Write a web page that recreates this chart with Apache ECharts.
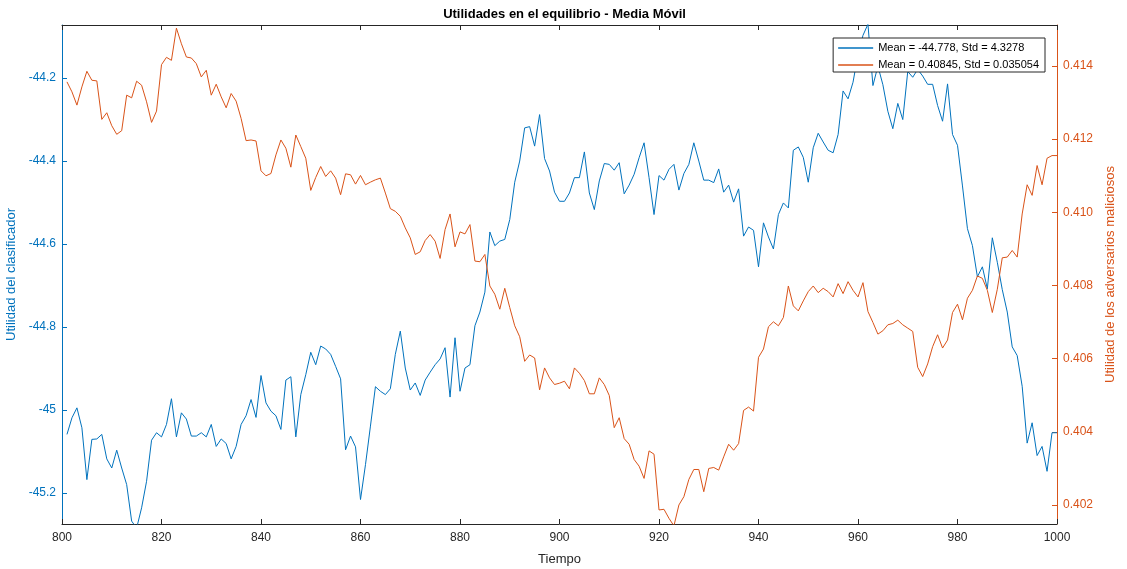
<!DOCTYPE html>
<html>
<head>
<meta charset="utf-8">
<title>Utilidades en el equilibrio - Media Móvil</title>
<script src="https://cdn.jsdelivr.net/npm/echarts@6/dist/echarts.min.js"></script>
<style>
  html, body { margin: 0; padding: 0; background: #fff; }
  #chart { width: 1127px; height: 569px; }
</style>
</head>
<body>
<div id="chart"></div>
<script>
// Time steps of the moving average window (801 .. 1000)
const firstStep = 801;
const lastStep = 1000;

// Classifier utility (left axis)
const utilClasificador = [
  -45.059, -45.019, -44.995, -45.043, -45.168, -45.071, -45.070, -45.059, -45.118, -45.140,
  -45.097, -45.140, -45.180, -45.268, -45.285, -45.236, -45.172, -45.073, -45.055, -45.065,
  -45.035, -44.973, -45.065, -45.007, -45.022, -45.063, -45.063, -45.055, -45.065, -45.035,
  -45.088, -45.070, -45.081, -45.118, -45.088, -45.035, -45.014, -44.975, -45.018, -44.917,
  -44.983, -45.003, -45.014, -45.047, -44.928, -44.920, -45.065, -44.963, -44.915, -44.861,
  -44.891, -44.846, -44.853, -44.866, -44.895, -44.925, -45.096, -45.063, -45.089, -45.216,
  -45.132, -45.039, -44.944, -44.955, -44.963, -44.949, -44.866, -44.810, -44.899, -44.952,
  -44.935, -44.965, -44.928, -44.909, -44.891, -44.877, -44.850, -44.969, -44.826, -44.955,
  -44.899, -44.891, -44.797, -44.764, -44.716, -44.571, -44.604, -44.593, -44.589, -44.541,
  -44.451, -44.400, -44.320, -44.317, -44.364, -44.288, -44.394, -44.424, -44.475, -44.497,
  -44.497, -44.477, -44.440, -44.440, -44.378, -44.477, -44.517, -44.448, -44.406, -44.408,
  -44.422, -44.404, -44.479, -44.458, -44.432, -44.392, -44.356, -44.440, -44.529, -44.435,
  -44.446, -44.420, -44.408, -44.470, -44.430, -44.408, -44.356, -44.400, -44.446, -44.446,
  -44.452, -44.419, -44.475, -44.458, -44.499, -44.467, -44.581, -44.559, -44.567, -44.655,
  -44.549, -44.583, -44.612, -44.529, -44.501, -44.513, -44.374, -44.366, -44.391, -44.451,
  -44.368, -44.333, -44.354, -44.374, -44.380, -44.336, -44.231, -44.250, -44.210, -44.143,
  -44.097, -44.070, -44.218, -44.171, -44.216, -44.280, -44.322, -44.261, -44.300, -44.184,
  -44.198, -44.179, -44.195, -44.215, -44.215, -44.266, -44.304, -44.214, -44.336, -44.362,
  -44.460, -44.563, -44.604, -44.679, -44.655, -44.708, -44.585, -44.644, -44.710, -44.764,
  -44.848, -44.869, -44.943, -45.080, -45.031, -45.110, -45.088, -45.148, -45.055, -45.055
];

// Utility of the malicious adversaries (right axis)
const utilAdversarios = [
  0.413565, 0.413293, 0.412930, 0.413429, 0.413855, 0.413610, 0.413592, 0.412540, 0.412721, 0.412367,
  0.412132, 0.412231, 0.413202, 0.413129, 0.413583, 0.413474, 0.413020, 0.412458, 0.412766, 0.414036,
  0.414236, 0.414154, 0.415034, 0.414608, 0.414245, 0.414218, 0.414063, 0.413701, 0.413882, 0.413202,
  0.413501, 0.413156, 0.412857, 0.413247, 0.413039, 0.412567, 0.411959, 0.411977, 0.411950, 0.411134,
  0.410998, 0.411061, 0.411569, 0.411977, 0.411751, 0.411234, 0.412113, 0.411796, 0.411478, 0.410599,
  0.410952, 0.411252, 0.410980, 0.411134, 0.410934, 0.410481, 0.411052, 0.411025, 0.410771, 0.411007,
  0.410753, 0.410825, 0.410889, 0.410934, 0.410526, 0.410100, 0.410027, 0.409891, 0.409574, 0.409302,
  0.408848, 0.408921, 0.409229, 0.409392, 0.409211, 0.408739, 0.409528, 0.409955, 0.409057, 0.409465,
  0.409410, 0.409664, 0.408667, 0.408649, 0.408848, 0.407986, 0.407760, 0.407351, 0.407923, 0.407397,
  0.406898, 0.406599, 0.405927, 0.406100, 0.406018, 0.405147, 0.405746, 0.405474, 0.405293, 0.405329,
  0.405383, 0.405175, 0.405746, 0.405601, 0.405401, 0.405039, 0.405039, 0.405474, 0.405293, 0.404993,
  0.404113, 0.404385, 0.403814, 0.403660, 0.403243, 0.403061, 0.402726, 0.403478, 0.403388, 0.401864,
  0.401882, 0.401637, 0.401429, 0.402000, 0.402227, 0.402698, 0.402970, 0.402970, 0.402363, 0.402998,
  0.403025, 0.402952, 0.403315, 0.403660, 0.403497, 0.403678, 0.404585, 0.404676, 0.404567, 0.406036,
  0.406263, 0.406871, 0.407007, 0.406898, 0.407125, 0.407986, 0.407442, 0.407306, 0.407578, 0.407832,
  0.407986, 0.407805, 0.407923, 0.407832, 0.407687, 0.408050, 0.407778, 0.408104, 0.407868, 0.407687,
  0.408077, 0.407288, 0.406989, 0.406671, 0.406762, 0.406925, 0.406961, 0.407052, 0.406925, 0.406834,
  0.406744, 0.405764, 0.405510, 0.405855, 0.406327, 0.406653, 0.406290, 0.406508, 0.407261, 0.407488,
  0.407061, 0.407651, 0.407868, 0.408259, 0.408195, 0.407868, 0.407261, 0.407896, 0.408757, 0.408776,
  0.408957, 0.408776, 0.409955, 0.410753, 0.410463, 0.411279, 0.410753, 0.411478, 0.411551, 0.411551
];

// Tick labels
const xTicks = [800, 820, 840, 860, 880, 900, 920, 940, 960, 980, 1000];
const leftTicks = [-45.2, -45.0, -44.8, -44.6, -44.4, -44.2];
const rightTicks = [0.402, 0.404, 0.406, 0.408, 0.410, 0.412, 0.414];

// Legend entries
const legendBlue = 'Mean = -44.778, Std = 4.3278';
const legendOrange = 'Mean = 0.40845, Std = 0.035054';

const BLUE = '#0072BD';
const ORANGE = '#D95319';
const DARK = '#262626';
const FONT = '"Liberation Sans", Arial, Helvetica, sans-serif';

const steps = [];
for (let s = firstStep; s <= lastStep; s++) steps.push(s);
const blueData = steps.map((s, i) => [s, utilClasificador[i]]);
const orangeData = steps.map((s, i) => [s, utilAdversarios[i]]);

const chart = echarts.init(document.getElementById('chart'), null, { renderer: 'canvas' });

chart.setOption({
  animation: false,
  backgroundColor: '#fff',
  textStyle: { fontFamily: FONT },
  title: {
    text: 'Utilidades en el equilibrio - Media Móvil',
    left: 559.5,
    textAlign: 'center',
    top: 3,
    textStyle: { fontFamily: FONT, fontSize: 13, fontWeight: 'bold', color: '#000' }
  },
  legend: {
    orient: 'vertical',
    right: 82,
    top: 38,
    backgroundColor: '#fff',
    borderColor: DARK,
    borderWidth: 1,
    borderRadius: 0,
    padding: [4, 6, 1, 5],
    itemGap: 5,
    itemWidth: 35,
    itemHeight: 1.5,
    textStyle: { fontFamily: FONT, fontSize: 11, color: '#000', lineHeight: 12 },
    data: [
      { name: legendBlue, icon: 'rect', itemStyle: { color: BLUE, borderWidth: 0, opacity: 1 } },
      { name: legendOrange, icon: 'rect', itemStyle: { color: ORANGE, borderWidth: 0, opacity: 1 } }
    ],
    z: 10
  },
  grid: { left: 62, right: 70, top: 25, bottom: 45, containLabel: false, outerBoundsMode: 'none' },
  xAxis: [
    {
      type: 'value',
      min: 800,
      max: 1000,
      interval: 20,
      position: 'bottom',
      name: 'Tiempo',
      nameLocation: 'middle',
      nameGap: 29,
      nameTextStyle: { fontFamily: FONT, fontSize: 13, color: DARK },
      axisLine: { show: true, lineStyle: { color: DARK, width: 1 } },
      axisTick: { show: true, inside: true, length: 5, lineStyle: { color: DARK } },
      axisLabel: {
        margin: 8, fontFamily: FONT, fontSize: 12, color: DARK,
        formatter: v => (xTicks.includes(v) ? String(v) : '')
      },
      splitLine: { show: false }
    },
    {
      type: 'value',
      min: 800,
      max: 1000,
      interval: 20,
      position: 'top',
      axisLine: { show: true, lineStyle: { color: DARK, width: 1 } },
      axisTick: { show: true, inside: true, length: 5, lineStyle: { color: DARK } },
      axisLabel: { show: false },
      splitLine: { show: false }
    }
  ],
  yAxis: [
    {
      type: 'value',
      position: 'left',
      min: -45.275,
      max: -44.072,
      name: 'Utilidad del clasificador',
      nameLocation: 'middle',
      nameGap: 41,
      nameTextStyle: { fontFamily: FONT, fontSize: 13, color: BLUE },
      axisLine: { show: true, onZero: false, lineStyle: { color: BLUE, width: 1 } },
      axisTick: { show: true, inside: true, length: 5, customValues: leftTicks, lineStyle: { color: BLUE } },
      axisLabel: {
        customValues: leftTicks, margin: 6, fontFamily: FONT, fontSize: 12, color: BLUE,
        formatter: v => String(+(+v).toFixed(1))
      },
      splitLine: { show: false }
    },
    {
      type: 'value',
      position: 'right',
      min: 0.40148,
      max: 0.41512,
      name: 'Utilidad de los adversarios maliciosos',
      nameLocation: 'middle',
      nameGap: 44,
      nameTextStyle: { fontFamily: FONT, fontSize: 13, color: ORANGE },
      axisLine: { show: true, onZero: false, lineStyle: { color: ORANGE, width: 1 } },
      axisTick: { show: true, inside: true, length: 5, customValues: rightTicks, lineStyle: { color: ORANGE } },
      axisLabel: {
        customValues: rightTicks, margin: 6, fontFamily: FONT, fontSize: 12, color: ORANGE,
        formatter: v => (+v).toFixed(3)
      },
      splitLine: { show: false }
    }
  ],
  series: [
    {
      name: legendBlue,
      type: 'line',
      xAxisIndex: 0,
      yAxisIndex: 0,
      data: blueData,
      symbol: 'none',
      clip: true,
      lineStyle: { color: BLUE, width: 1 },
      itemStyle: { color: BLUE }
    },
    {
      name: legendOrange,
      type: 'line',
      xAxisIndex: 0,
      yAxisIndex: 1,
      data: orangeData,
      symbol: 'none',
      clip: true,
      lineStyle: { color: ORANGE, width: 1 },
      itemStyle: { color: ORANGE }
    }
  ]
});
</script>
</body>
</html>
